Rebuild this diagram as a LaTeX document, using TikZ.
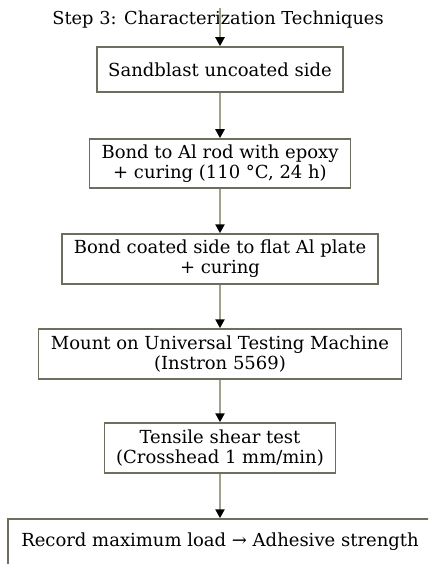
\documentclass[tikz,border=0pt]{standalone}
\usepackage{fontspec}
\setmainfont{DejaVu Serif}
\usetikzlibrary{arrows.meta}
\definecolor{boxline}{HTML}{6E6E5E}
\definecolor{conn}{HTML}{A2A28C}
\begin{document}
\begin{tikzpicture}[x=1pt,y=-1pt,
  stepbox/.style={draw=boxline,line width=1.5pt,fill=white,align=center,
    font=\fontsize{18}{20}\selectfont,minimum height=45pt,inner sep=0pt},
  conn/.style={draw=conn,line width=2.4pt,-{Triangle[color=black,length=9pt,width=9pt]}}]
\useasboundingbox (0,0) rectangle (428,564);
\clip (0,0) rectangle (428,564);
\coordinate (top) at (220,8);
\node[font=\fontsize{17.8}{20}\selectfont] (title) at (218,20) {Step 3: Characterization Techniques};
\node[stepbox,minimum width=246pt] (b1) at (220,69.5) {Sandblast uncoated side};
\node[stepbox,minimum width=261pt,minimum height=49pt] (b2) at (220,163.5) {Bond to Al rod with epoxy\\+ curing (110 °C, 24 h)};
\node[stepbox,minimum width=316pt,minimum height=50pt] (b3) at (220,259) {Bond coated side to flat Al plate\\+ curing};
\node[stepbox,minimum width=363pt,minimum height=50pt] (b4) at (220,354) {Mount on Universal Testing Machine\\(Instron 5569)};
\node[stepbox,minimum width=231pt,minimum height=50pt] (b5) at (220,448) {Tensile shear test\\(Crosshead 1 mm/min)};
\node[stepbox,minimum width=424pt,minimum height=46pt] (b6) at (220,542) {Record maximum load → Adhesive strength};
\draw[conn] (top) -- (b1.north);
\draw[conn] (b1) -- (b2);
\draw[conn] (b2) -- (b3);
\draw[conn] (b3) -- (b4);
\draw[conn] (b4) -- (b5);
\draw[conn] (b5) -- (b6);
\end{tikzpicture}
\end{document}
